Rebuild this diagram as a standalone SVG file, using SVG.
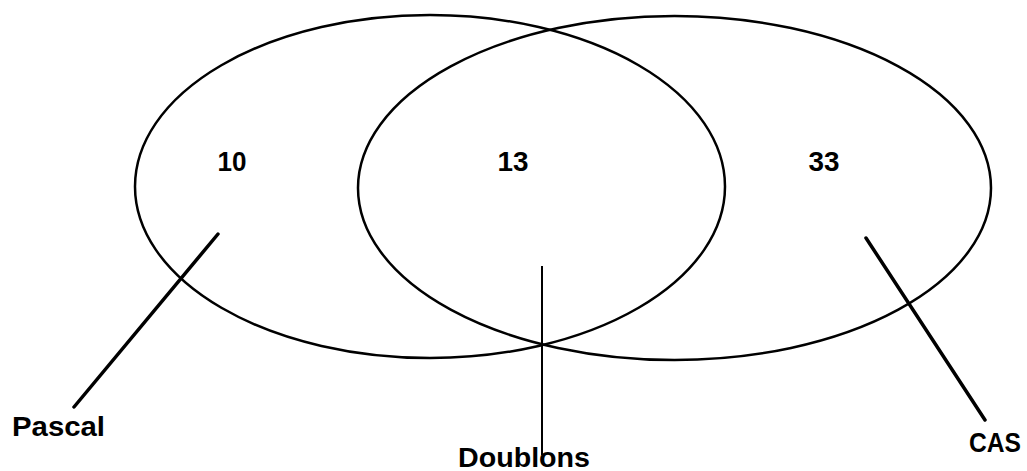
<svg xmlns="http://www.w3.org/2000/svg" width="1027" height="471" viewBox="0 0 1027 471">
<style>
.set{fill:none;stroke:#000;stroke-width:2.5}
.lead{stroke:#000;stroke-width:3.5;stroke-linecap:round}
.thin{stroke:#000;stroke-width:2}
text{font-family:"Liberation Sans",Arial,sans-serif;font-weight:bold;font-size:28px;fill:#000}
.num{text-anchor:middle}
</style>
<rect width="1027" height="471" fill="#fff"/>
<g id="pascal-set"><ellipse class="set" cx="430" cy="186.5" rx="295" ry="171.5"/><text class="num" x="232" y="171" textLength="29" lengthAdjust="spacingAndGlyphs">10</text></g>
<g id="cas-set"><ellipse class="set" cx="674.5" cy="188" rx="316.5" ry="172"/><text class="num" x="824" y="171" textLength="31" lengthAdjust="spacingAndGlyphs">33</text></g>
<g id="intersection"><text class="num" x="513" y="171" textLength="31" lengthAdjust="spacingAndGlyphs">13</text></g>
<g id="connectors">
<line class="lead" x1="218" y1="234" x2="74" y2="407"/>
<line class="thin" x1="542" y1="266" x2="542" y2="455"/>
<line class="lead" x1="866" y1="238" x2="985" y2="420"/>
</g>
<g id="label-pascal"><text x="12" y="436" textLength="93" lengthAdjust="spacingAndGlyphs">Pascal</text></g>
<g id="label-doublons"><text x="458" y="467" textLength="132" lengthAdjust="spacingAndGlyphs">Doublons</text></g>
<g id="label-cas"><text x="969" y="452" textLength="52" lengthAdjust="spacingAndGlyphs">CAS</text></g>
</svg>
